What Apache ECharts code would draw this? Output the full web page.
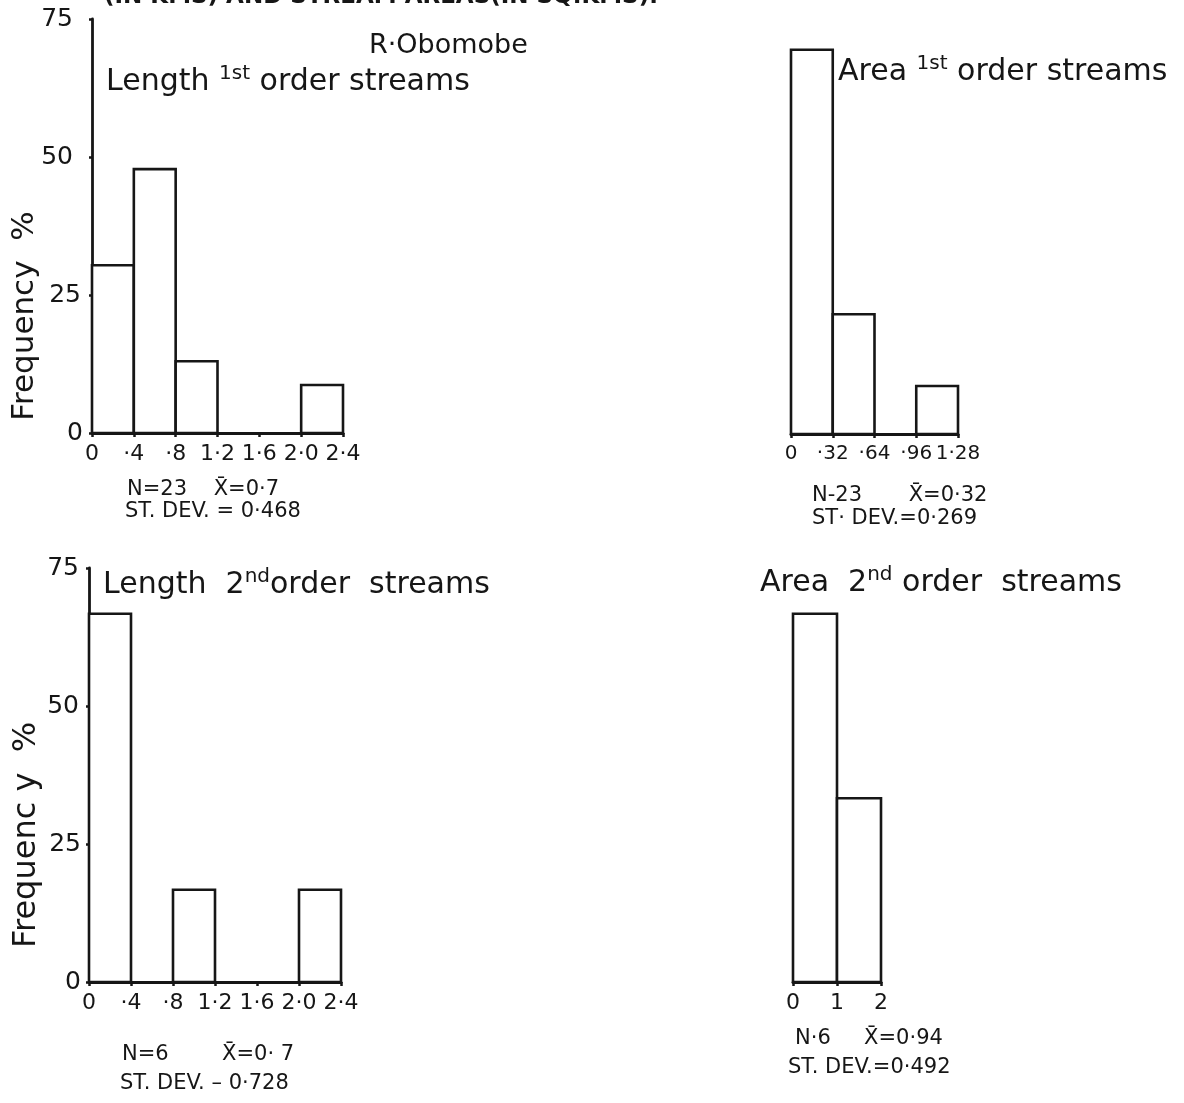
<!DOCTYPE html>
<html>
<head>
<meta charset="utf-8">
<script src="https://cdn.jsdelivr.net/npm/echarts@6/dist/echarts.min.js"></script>
<style>
html,body{margin:0;padding:0;background:#fff;}
#chart{width:1184px;height:1103px;}
</style>
</head>
<body>
<div id="chart"></div>
<script>
// ---- Data (frequency %, per histogram class) ----
const lengthEdges = [0, 0.4, 0.8, 1.2, 1.6, 2.0, 2.4];
const lengthTickLabels = ['0', '·4', '·8', '1·2', '1·6', '2·0', '2·4'];
const length1Freq = [30.4, 47.8, 13.0, 0, 0, 8.7];
const length2Freq = [66.7, 0, 16.7, 0, 0, 16.7];

const area1Edges = [0, 0.32, 0.64, 0.96, 1.28];
const area1TickLabels = ['0', '·32', '·64', '·96', '1·28'];
const area1Freq = [69.6, 21.7, 0, 8.7];

const area2Edges = [0, 1, 2];
const area2TickLabels = ['0', '1', '2'];
const area2Freq = [66.7, 33.3];

const yTicks = [0, 25, 50, 75];

const FONT = 'DejaVu Sans';
const INK = '#161616';

function toBins(edges, freq) {
  return freq.map((f, i) => [edges[i], edges[i + 1], f]);
}

function renderBar(params, api) {
  const x0 = api.value(0), x1 = api.value(1), v = api.value(2);
  if (!v) return null;
  const p0 = api.coord([x0, 0]);
  const p1 = api.coord([x1, v]);
  return {
    type: 'rect',
    shape: { x: p0[0], y: p1[1], width: p1[0] - p0[0], height: p0[1] - p1[1] },
    style: { fill: '#fff', stroke: INK, lineWidth: 2.6 }
  };
}

const chart = echarts.init(document.getElementById('chart'), null, { renderer: 'canvas' });

const grids = [
  { left: 92, top: 19, width: 251, height: 414 },
  { left: 791, top: 20, width: 167, height: 414 },
  { left: 89, top: 568, width: 252, height: 414 },
  { left: 793, top: 568, width: 88, height: 414 }
];

const xDefs = [
  { edges: lengthEdges, labels: lengthTickLabels, step: 0.4, fs: 22 },
  { edges: area1Edges, labels: area1TickLabels, step: 0.32, fs: 20 },
  { edges: lengthEdges, labels: lengthTickLabels, step: 0.4, fs: 22 },
  { edges: area2Edges, labels: area2TickLabels, step: 1, fs: 22 }
];

const seriesFreq = [length1Freq, area1Freq, length2Freq, area2Freq];
const showY = [true, false, true, false];
// extra right padding of y tick labels (hand-lettered placement)
const yLabelPad = [
  { 0: 1, 25: 3, 50: 11, 75: 11 },
  {},
  { 0: 0, 25: 0, 50: 2, 75: 2 },
  {}
];

const xAxis = xDefs.map((d, i) => ({
  type: 'value', gridIndex: i,
  min: 0, max: d.edges[d.edges.length - 1], interval: d.step,
  axisLine: { show: true, lineStyle: { color: INK, width: 2.8 } },
  axisTick: { show: true, length: 4, lineStyle: { color: INK, width: 2.5 } },
  splitLine: { show: false },
  axisLabel: {
    color: INK, fontFamily: FONT, fontSize: d.fs, margin: 10,
    showMinLabel: true, showMaxLabel: true, hideOverlap: false,
    formatter: v => d.labels[Math.round(v / d.step)] || ''
  }
}));

const yAxis = showY.map((s, i) => {
  const rich = {};
  yTicks.forEach(t => {
    rich['p' + t] = { fontFamily: FONT, fontSize: 25, color: INK, padding: [0, (yLabelPad[i][t] || 0), 0, 0] };
  });
  return {
    type: 'value', gridIndex: i, min: 0, max: 75, interval: 25,
    axisLine: { show: s, lineStyle: { color: INK, width: 2.8 } },
    axisTick: { show: s, length: 3, lineStyle: { color: INK, width: 2.5 } },
    splitLine: { show: false },
    axisLabel: {
      show: s, color: INK, fontFamily: FONT, fontSize: 25, margin: 8,
      showMinLabel: true, showMaxLabel: true,
      formatter: v => {
        const r = Math.round(v);
        return yTicks.indexOf(r) >= 0 ? '{p' + r + '|' + r + '}' : '';
      },
      rich: rich
    }
  };
});

const series = seriesFreq.map((f, i) => ({
  type: 'custom', xAxisIndex: i, yAxisIndex: i,
  renderItem: renderBar,
  data: toBins(xDefs[i].edges, f),
  encode: { x: [0, 1], y: 2 },
  z: 1
}));

function title(x, y, pre, sup, post, size) {
  const fs = size || 30;
  return {
    type: 'text', x: x, y: y, z: 10,
    style: {
      text: '{a|' + pre + '}{s|' + sup + '}{a|' + post + '}',
      fill: INK, align: 'left', verticalAlign: 'middle',
      rich: {
        a: { fontFamily: FONT, fontSize: fs, fill: INK, lineHeight: fs + 6 },
        s: { fontFamily: FONT, fontSize: Math.round(fs * 0.66), fill: INK, verticalAlign: 'top', lineHeight: fs + 6, padding: [0, 0, 14, 0] }
      }
    }
  };
}

function txt(x, y, s, size) {
  return {
    type: 'text', x: x, y: y, z: 10,
    style: { text: s, fontFamily: FONT, fontSize: size || 21, fill: INK, align: 'left', verticalAlign: 'middle' }
  };
}

function vtxt(x, y, s, size) {
  return {
    type: 'text', x: x, y: y, rotation: Math.PI / 2, z: 10,
    style: { text: s, fontFamily: FONT, fontSize: size, fill: INK, align: 'center', verticalAlign: 'middle' }
  };
}

const graphic = [
  { type: 'text', x: 104, y: 9, z: 10,
    style: { text: '(IN KMS) AND STREAM AREAS(IN SQ.KMS).', fontFamily: FONT, fontSize: 23, fontWeight: 'bold', fill: INK, align: 'left', verticalAlign: 'bottom' } },
  txt(369, 46, 'R·Obomobe', 27),
  title(106, 82, 'Length ', '1st', ' order streams'),
  title(838, 72, 'Area ', '1st', ' order streams'),
  title(103, 585, 'Length  2', 'nd', 'order  streams'),
  title(760, 583, 'Area  2', 'nd', ' order  streams'),
  vtxt(25, 316, 'Frequency  %', 31),
  vtxt(27, 835, 'Frequenc y  %', 32),
  txt(127, 490, 'N=23    X̄=0·7'),
  txt(125, 512, 'ST. DEV. = 0·468'),
  txt(812, 496, 'N-23       X̄=0·32'),
  txt(812, 519, 'ST· DEV.=0·269'),
  txt(122, 1055, 'N=6        X̄=0· 7'),
  txt(120, 1084, 'ST. DEV. – 0·728'),
  txt(795, 1039, 'N·6     X̄=0·94'),
  txt(788, 1068, 'ST. DEV.=0·492')
];

chart.setOption({
  animation: false,
  backgroundColor: '#ffffff',
  grid: grids.map(g => Object.assign({ containLabel: false }, g)),
  xAxis: xAxis,
  yAxis: yAxis,
  series: series,
  graphic: graphic
});
</script>
</body>
</html>
